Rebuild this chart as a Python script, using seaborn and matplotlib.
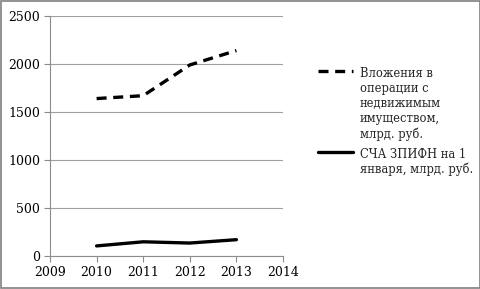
import pandas as pd
import seaborn as sns
import matplotlib.pyplot as plt

# данные
years = [2010, 2011, 2012, 2013]
vlozheniya = [1640, 1670, 1990, 2140]
scha = [105, 148, 135, 170]

label_vl = "Вложения в\nоперации с\nнедвижимым\nимуществом,\nмлрд. руб."
label_scha = "СЧА ЗПИФН на 1\nянваря, млрд. руб."

df = pd.DataFrame({"Год": years + years,
                   "Значение": vlozheniya + scha,
                   "Ряд": [label_vl] * 4 + [label_scha] * 4})

sns.set_theme(style="white")
plt.rcParams['font.family'] = ['DejaVu Serif']

fig = plt.figure(figsize=(4.81, 2.89), dpi=100)
ax = fig.add_axes([50 / 481, 1 - 256 / 289, 233 / 481, 240 / 289])

sns.lineplot(data=df, x="Год", y="Значение", hue="Ряд", style="Ряд",
             palette=["black", "black"], dashes=[(3, 2), ""],
             linewidth=2.4, ax=ax, legend=True)

ax.set_xlim(2009, 2014)
ax.set_ylim(0, 2500)
ax.set_xticks(range(2009, 2015))
ax.set_yticks(range(0, 2501, 500))
ax.set_xlabel("")
ax.set_ylabel("")

ax.yaxis.grid(True, color="#a0a0a0", linewidth=0.8)
ax.xaxis.grid(False)
for s in ["top", "right"]:
    ax.spines[s].set_visible(False)
for s in ["left", "bottom"]:
    ax.spines[s].set_color("#8c8c8c")
    ax.spines[s].set_linewidth(0.8)
ax.tick_params(axis="both", length=4, width=0.8, color="#8c8c8c",
               labelsize=9, colors="black", direction="out", pad=3)
ax.tick_params(axis="x", bottom=True)
ax.tick_params(axis="y", left=True)

# легенда справа
leg = ax.legend(title=None, loc="upper left", bbox_to_anchor=(308 / 481, 1 - 57 / 289),
                bbox_transform=fig.transFigure, frameon=False, fontsize=8.3,
                handlelength=3.0, handletextpad=0.7, labelspacing=0.6)
# маркер легенды на уровне первой строки подписи
for col in leg._legend_handle_box.get_children():
    for item in col.get_children():
        item.align = "top"
        item.sep = 5

# рамка вокруг рисунка
fig.patches.append(plt.Rectangle((0.002, 0.003), 0.996, 0.994, transform=fig.transFigure,
                                 fill=False, edgecolor="#7f7f7f", linewidth=1.2))

plt.savefig("out.png", dpi=100)
